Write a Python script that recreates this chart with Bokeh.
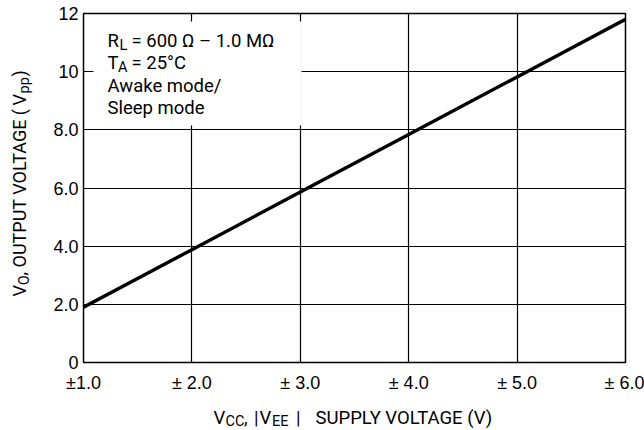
import math
from bokeh.plotting import figure
from bokeh.layouts import column, row
from bokeh.models import Range1d, Label, BoxAnnotation, FixedTicker
from bokeh.embed import file_html
from bokeh.resources import INLINE

# ---- data ----
vcc = [1.0, 2.0, 3.0, 4.0, 5.0, 6.0]
vout = [1.9, 3.88, 5.86, 7.84, 9.82, 11.8]
x_ticks = [1, 2, 3, 4, 5, 6]
x_tick_labels = ["\u00b11.0", "\u00b1 2.0", "\u00b1 3.0", "\u00b1 4.0", "\u00b1 5.0", "\u00b1 6.0"]
y_ticks = [0, 2, 4, 6, 8, 10, 12]
y_tick_labels = ["0", "2.0", "4.0", "6.0", "8.0", "10", "12"]

LAB = "Roboto"
TICK = "Liberation Sans"

W, H = 644, 430
YW = 40          # width of the y-title strip
XH = 35          # height of the x-title strip
MH = H - XH      # height of the main figure / y strip
L, R, T = 83, 19, 13
FRAME_BOTTOM = 363
BB = MH - FRAME_BOTTOM

main = figure(width=W - YW, height=MH, output_backend="svg", toolbar_location=None,
              x_range=Range1d(1, 6), y_range=Range1d(0, 12),
              min_border_left=L - YW, min_border_right=R, min_border_top=T,
              min_border_bottom=BB)
main.background_fill_color = "white"
main.border_fill_color = "white"
main.outline_line_color = "black"
main.outline_line_width = 1.5

for ax in (main.xaxis[0], main.yaxis[0]):
    ax.axis_line_color = None
    ax.major_tick_line_color = None
    ax.minor_tick_line_color = None
    ax.major_tick_out = 0
    ax.major_tick_in = 0
    ax.minor_tick_out = 0
    ax.minor_tick_in = 0
    ax.major_label_text_font = TICK
    ax.major_label_text_font_size = "18px"
    ax.major_label_text_color = "black"

main.xaxis.ticker = FixedTicker(ticks=x_ticks)
main.xaxis.major_label_overrides = {t: s for t, s in zip(x_ticks, x_tick_labels)}
main.xaxis.major_label_standoff = 10
main.yaxis.ticker = FixedTicker(ticks=y_ticks)
main.yaxis.major_label_overrides = {t: s for t, s in zip(y_ticks, y_tick_labels)}
main.yaxis.major_label_standoff = 5

main.xgrid.ticker = FixedTicker(ticks=x_ticks)
main.ygrid.ticker = FixedTicker(ticks=y_ticks)
for g in (main.xgrid[0], main.ygrid[0]):
    g.grid_line_color = "black"
    g.grid_line_width = 1.2

main.line(vcc, vout, line_color="black", line_width=3.4)


def corr(size):
    return 0.26 * size


def lab(fig, text, sx, sy, size, angle=0.0, font=LAB):
    fig.add_layout(Label(x=sx, y=sy, x_units="screen", y_units="screen",
                         text=text, text_font=font, text_font_size=f"{size}px",
                         text_baseline="alphabetic", text_align="left",
                         text_color="black", angle=angle))


def hlab(fig, text, cx, cy, size, left, bottom):
    lab(fig, text, cx - left, bottom - cy + corr(size), size)


main.add_layout(BoxAnnotation(left=93 - L, right=301 - L,
                              top=FRAME_BOTTOM - 22, bottom=FRAME_BOTTOM - 126,
                              left_units="screen", right_units="screen",
                              top_units="screen", bottom_units="screen",
                              fill_color="white", fill_alpha=1.0, line_color=None))

hlab(main, "R", 107, 46, 18.5, L, FRAME_BOTTOM)
hlab(main, "L", 119, 50, 14.5, L, FRAME_BOTTOM)
hlab(main, "= 600 \u03a9 \u2013 1.0 M\u03a9", 131, 46, 18.5, L, FRAME_BOTTOM)
hlab(main, "T", 107, 68, 18.5, L, FRAME_BOTTOM)
hlab(main, "A", 117.5, 72, 14.5, L, FRAME_BOTTOM)
hlab(main, "= 25\u00b0C", 131, 68, 18.5, L, FRAME_BOTTOM)
hlab(main, "Awake mode/", 107, 91, 18.5, L, FRAME_BOTTOM)
hlab(main, "Sleep mode", 107, 113, 18.5, L, FRAME_BOTTOM)


def blank(w, h, **borders):
    f = figure(width=w, height=h, output_backend="svg", toolbar_location=None,
               x_range=Range1d(0, 1), y_range=Range1d(0, 1),
               x_axis_type=None, y_axis_type=None, **borders)
    f.outline_line_color = None
    f.background_fill_color = "white"
    f.border_fill_color = "white"
    return f


# ---- y title strip: frame aligned with main frame (top 13, bottom 363) ----
yfig = blank(YW, MH, min_border_left=0, min_border_right=0,
             min_border_top=T, min_border_bottom=BB)
A = math.pi / 2


def vlab(text, cx, cy, size):
    lab(yfig, text, cx - corr(size), FRAME_BOTTOM - cy, size, angle=A)


vlab("V", 24, 297, 18)
vlab("O", 27, 285.5, 14)
vlab(", OUTPUT VOLTAGE (", 24, 276, 18)
vlab("V", 24, 106, 18)
vlab("pp", 27.5, 94, 14.5)
vlab(")", 24, 77, 18)

# ---- x title strip: frame aligned horizontally with main frame ----
xfig = blank(W, XH, min_border_left=L, min_border_right=R,
             min_border_top=0, min_border_bottom=0)


def xlab(text, cx, cy, size):
    hlab(xfig, text, cx, cy, size, L, H)


xlab("V", 213, 422, 18.5)
xlab("CC", 225, 425, 14.5)
xlab(",", 243.5, 422, 18.5)
xlab("|", 253.5, 422, 18.5)
xlab("V", 259, 422, 18.5)
xlab("EE", 271.5, 425, 14.5)
xlab("|", 295.5, 422, 18.5)
xlab("SUPPLY VOLTAGE (V)", 315, 422, 18.5)

layout = column(row(yfig, main, spacing=0), xfig, spacing=0)

open("out.html", "w").write(file_html(layout, INLINE))
